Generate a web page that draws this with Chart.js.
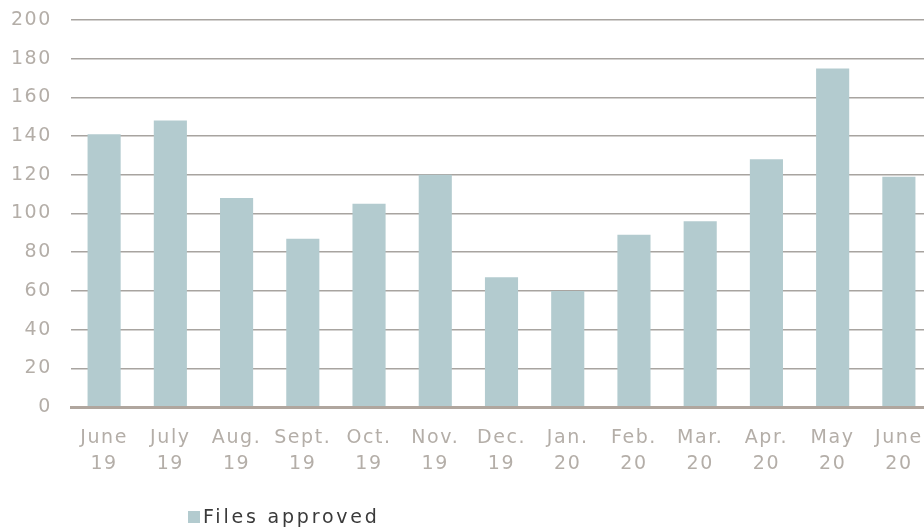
<!DOCTYPE html>
<html>
<head>
<meta charset="utf-8">
<script src="https://cdn.jsdelivr.net/npm/chart.js@4"></script>
<style>
  body { margin: 0; background: #fff; overflow: hidden; }
  #wrap { position: relative; width: 924px; height: 529px; overflow: hidden; }
  #legend { position: absolute; left: 188px; top: 505px; font: 19px "DejaVu Sans", Verdana, sans-serif; color: #3a3a3a; letter-spacing: 2.8px; }
  #legend span { display: inline-block; width: 12px; height: 12px; background: #b3cbcf; margin-right: 3px; }
</style>
</head>
<body>
<div id="wrap">
  <canvas id="chart" width="932" height="529"></canvas>
  <div id="legend"><span></span>Files approved</div>
</div>
<script>
const months = [["June","19"],["July","19"],["Aug.","19"],["Sept.","19"],["Oct.","19"],["Nov.","19"],
                ["Dec.","19"],["Jan.","20"],["Feb.","20"],["Mar.","20"],["Apr.","20"],["May","20"],["June","20"]];
const filesApproved = [141, 148, 108, 87, 105, 120, 67, 60, 89, 96, 128, 175, 119];
const yTicks = [0, 20, 40, 60, 80, 100, 120, 140, 160, 180, 200];

const labelColor = "#b4aea8";
const font = { family: "'DejaVu Sans', Verdana, sans-serif", size: 19, lineHeight: 1.37 };

// wider lettering, like the Verdana labels of the original
const spacing = {
    id: "spacing",
    beforeDraw: chart => { chart.ctx.letterSpacing = "1.6px"; },
    beforeLayout: chart => { chart.ctx.letterSpacing = "1.6px"; }
};

const ctx = document.getElementById("chart").getContext("2d");
new Chart(ctx, {
    type: "bar",
    data: {
        labels: months,
        datasets: [{
            label: "Files approved",
            data: filesApproved,
            backgroundColor: "#b3cbcf",
            barPercentage: 0.5,
            categoryPercentage: 1
        }]
    },
    options: {
        responsive: false,
        animation: false,
        layout: { padding: { top: 20, right: 0, bottom: 0, left: 0 } },
        plugins: { legend: { display: false }, tooltip: { enabled: false } },
        scales: {
            x: {
                grid: { display: false, drawTicks: false },
                border: { display: true, color: "#b0a69e", width: 3, z: 2 },
                ticks: { color: labelColor, font: font, padding: 18, maxRotation: 0, autoSkip: false },
                afterFit: s => { s.height = 122; s.paddingLeft = 0; s.paddingRight = 0; }
            },
            y: {
                min: 0,
                max: 200,
                z: 1,
                afterBuildTicks: s => { s.ticks = yTicks.map(v => ({ value: v })); },
                grid: { color: "#a8a4a0", lineWidth: 1.5, drawTicks: false },
                border: { display: false },
                ticks: { color: labelColor, font: font, padding: 19 },
                afterFit: s => { s.width = 71; s.paddingTop = 0; s.paddingBottom = 0; }
            }
        }
    },
    plugins: [spacing]
});
</script>
</body>
</html>
